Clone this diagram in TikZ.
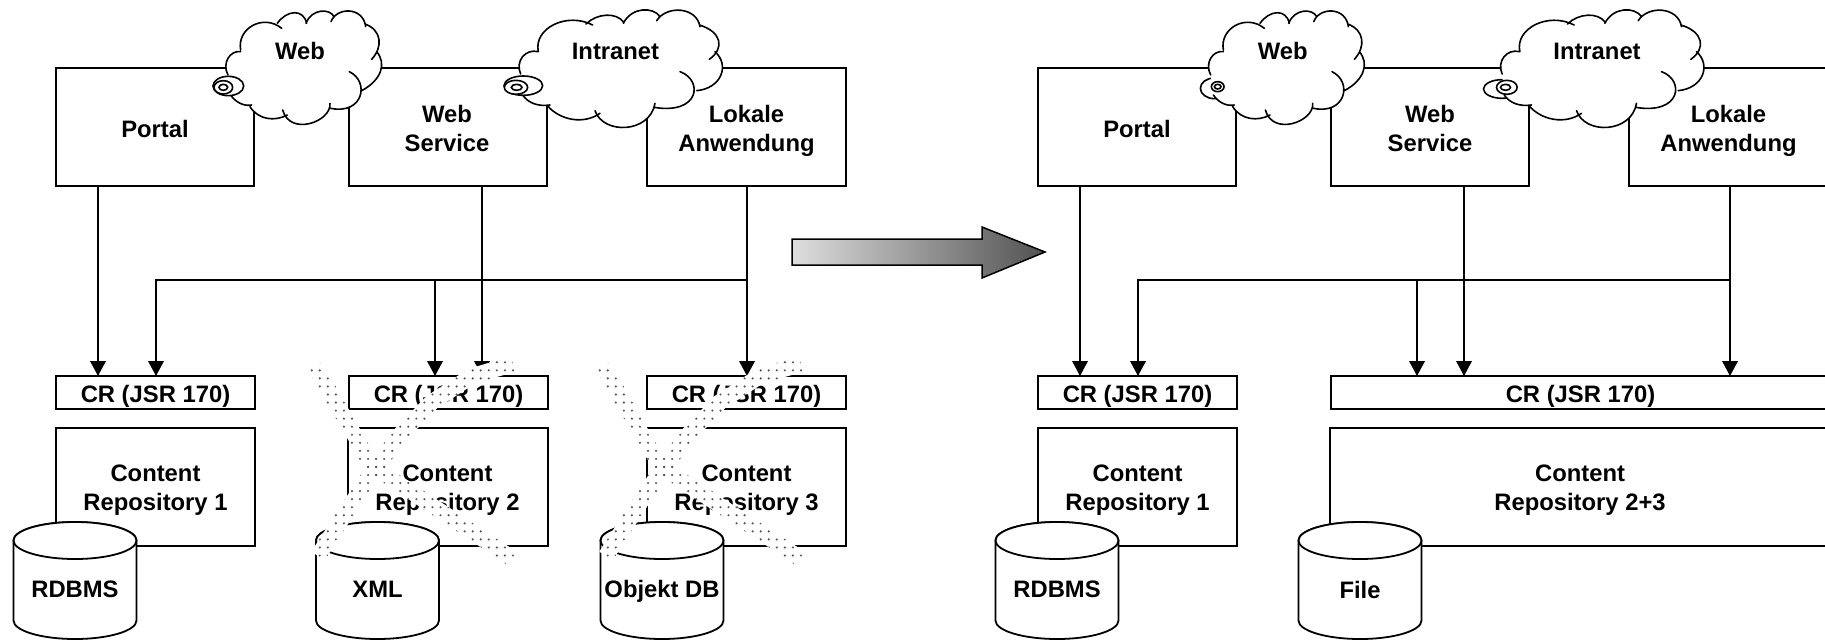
\documentclass[tikz,border=0pt]{standalone}
\usepackage{fontspec}
\setmainfont{Liberation Sans}
\usetikzlibrary{arrows.meta,patterns.meta}
\tikzset{
  labelfont/.style={font=\fontsize{23.8}{28.8}\selectfont\bfseries},
  boxnode/.style={draw=black,fill=white,line width=1.8pt,inner sep=0pt,outer sep=0pt},
  txt/.style={inner sep=0pt,outer sep=0pt,align=center,labelfont},
  conn/.style={draw=black,line width=2pt,-{Triangle[length=15pt,width=15.5pt]}},
  plainconn/.style={draw=black,line width=2pt},
  cyl/.style={draw=black,fill=white,line width=1.8pt},
  cloudline/.style={draw=black,line width=1.6pt,line cap=round},
  band/.style={fill=white},
  banddots/.style={pattern={Dots[radius=1.2pt,distance=8.05pt,xshift=#1pt,yshift=4pt]},pattern color=black!65}
}
\newcommand{\webpath}[1]{(84,225) .. controls (65,190) and (90,150) .. (122,155) #1
 (122,150) .. controls (110,85) and (190,40) .. (245,85) #1
 (232,70) .. controls (260,30) and (310,25) .. (320,70) #1
 (318,70) .. controls (335,25) and (390,25) .. (402,50) #1
 (393,65) .. controls (410,20) and (490,20) .. (497,80) #1
 (495,72) .. controls (545,90) and (550,140) .. (515,178) #1
 (530,155) .. controls (560,190) and (545,240) .. (485,272) #1
 (448,215) .. controls (510,245) and (490,345) .. (392,325) #1
 (390,310) .. controls (395,365) and (270,410) .. (248,330) #1
 (262,345) .. controls (225,365) and (175,360) .. (150,320) #1
 (155,315) .. controls (130,320) and (105,305) .. (92,285)}
\newcommand{\intrapath}[1]{(62,222) .. controls (45,185) and (75,145) .. (115,155) #1
 (115,155) .. controls (100,85) and (200,35) .. (278,75) #1
 (258,72) .. controls (290,40) and (350,35) .. (372,68) #1
 (370,70) .. controls (395,20) and (460,20) .. (480,50) #1
 (470,62) .. controls (500,15) and (590,20) .. (600,80) #1
 (598,75) .. controls (665,95) and (675,145) .. (628,178) #1
 (645,155) .. controls (690,195) and (665,265) .. (590,272) #1
 (540,215) .. controls (610,240) and (600,345) .. (462,322) #1
 (465,310) .. controls (450,400) and (310,405) .. (285,332) #1
 (300,340) .. controls (250,375) and (180,360) .. (143,318) #1
 (150,315) .. controls (115,320) and (85,310) .. (68,285)}
% cylinder: #1 centre x
\newcommand{\drum}[1]{
  \path[cyl] (#1-61.5,540.5) -- (#1-61.5,620.5) arc[start angle=180,end angle=0,x radius=61.5,y radius=18.5] -- (#1+61.5,540.5) arc[start angle=0,end angle=-180,x radius=61.5,y radius=18.5] -- cycle;
  \path[cyl] (#1,540.5) ellipse[x radius=61.5,y radius=18.5];
}
% crossed-out mark: #1 x offset, #2 dot phase
\newcommand{\bandone}{(322,362) -- (377.7,460.7) -- (517.4,552.3) -- (508.6,565.7) -- (366.3,471.3) -- (308,370) -- cycle}
\newcommand{\bandtwo}{(311.3,551.7) -- (361.5,473.5) -- (393.9,429.8) -- (426.9,395.8) -- (468.7,368.8) -- (510.8,356.3) -- (515.2,371.7) -- (475.3,383.2) -- (437.1,408.2) -- (406.1,440.2) -- (374.5,482.5) -- (324.7,560.3) -- cycle}
\newcommand{\crossout}[2]{
  \begin{scope}[shift={(#1,0)}]
  \path[band] \bandone;
  \path[band] \bandtwo;
  \path[banddots=#2] \bandone;
  \path[banddots=#2] \bandtwo;
  \end{scope}
}
\begin{document}
\begin{tikzpicture}[x=1pt,y=-1pt]
\useasboundingbox (0,0) rectangle (1825,640);
\clip (0,0) rectangle (1825,640);
\fill[white] (0,0) rectangle (1825,640);

% ---------- left half ----------
\node[boxnode,minimum width=198pt,minimum height=118pt] (portalL) at (155,127) {};
\node[boxnode,minimum width=198pt,minimum height=118pt] (wsL) at (448,127) {};
\node[boxnode,minimum width=199pt,minimum height=118pt] (lokL) at (746.5,127) {};
\node[boxnode,minimum width=199pt,minimum height=33pt] (crA) at (155.5,392.5) {};
\node[boxnode,minimum width=199pt,minimum height=33pt] (crB) at (448.5,392.5) {};
\node[boxnode,minimum width=199pt,minimum height=33pt] (crC) at (746.5,392.5) {};
\node[boxnode,minimum width=199pt,minimum height=118pt] (repA) at (155.5,487) {};
\node[boxnode,minimum width=200pt,minimum height=118pt] (repB) at (448,487) {};
\node[boxnode,minimum width=199pt,minimum height=118pt] (repC) at (746.5,487) {};
\node[txt] (portalLt) at (155,128.5) {Portal};
\node[txt] (wsLt) at (447,128.5) {Web\\Service};
\node[txt] (lokLt) at (746.5,131) {Lokale\\Anwendung};
\node[txt] (crAt) at (155.5,396) {CR (JSR 170)};
\node[txt] (crBt) at (448.5,396) {CR (JSR 170)};
\node[txt] (crCt) at (746.5,396) {CR (JSR 170)};
\node[txt] (repAt) at (155.5,490.5) {Content\\Repository 1};
\node[txt] (repBt) at (447.5,490.5) {Content\\Repository 2};
\node[txt] (repCt) at (746.5,490.5) {Content\\Repository 3};

\coordinate (jL) at (747,280);
\draw[plainconn] (lokL.south -| jL) -- (jL);
\draw[conn] (jL) -- (jL |- crC.north);
\draw[conn] (jL) -| ([xshift=0.5pt]crA.north);
\draw[conn] ([xshift=-13.5pt]crB.north |- jL) -- ([xshift=-13.5pt]crB.north);
\draw[conn] ([xshift=-57pt]portalL.south) -- ([xshift=-57pt]portalL.south |- crA.north);
\draw[conn] ([xshift=34pt]wsL.south) -- ([xshift=34pt]wsL.south |- crB.north);

\drum{75}\drum{377.5}\drum{662}
\node[txt] (dbA) at (75,589.5) {RDBMS};
\node[txt] (dbB) at (377.5,589.5) {XML};
\node[txt] (dbC) at (662,591) {Objekt DB};

% left clouds
\begin{scope}[shift={(200,0)},x=.3333pt,y=-.3333pt]
  \fill[white] \webpath{--} -- cycle;
  \draw[cloudline] \webpath{};
  \draw[cloudline,fill=white] (85,258) ellipse[x radius=46,y radius=29];
  \draw[cloudline,fill=white] (70,262) ellipse[x radius=28,y radius=20];
  \draw[cloudline] (70,262) ellipse[x radius=13,y radius=9];
\end{scope}
\begin{scope}[shift={(500,0)},x=.3333pt,y=-.3333pt]
  \fill[white] \intrapath{--} -- cycle;
  \draw[cloudline] \intrapath{};
  \draw[cloudline,fill=white] (70,257) ellipse[x radius=58,y radius=29];
  \draw[cloudline,fill=white] (48,262) ellipse[x radius=35,y radius=21];
  \draw[cloudline] (50,262) ellipse[x radius=16,y radius=9];
\end{scope}
\node[txt] (webL) at (300,51) {Web};
\node[txt] (intraL) at (615.5,51) {Intranet};

\crossout{0}{5.8}
\crossout{288}{4.0}

% ---------- transition arrow ----------
\path[draw=black,line width=1.5pt,left color=black!13,right color=black!68]
  (792,239) -- (982,239) -- (982,227) -- (1045,252) -- (982,278) -- (982,265) -- (792,265) -- cycle;

% ---------- right half ----------
\node[boxnode,minimum width=198pt,minimum height=118pt] (portalR) at (1137,127) {};
\node[boxnode,minimum width=198pt,minimum height=118pt] (wsR) at (1430,127) {};
\node[boxnode,minimum width=199pt,minimum height=118pt] (lokR) at (1728.5,127) {};
\node[boxnode,minimum width=199pt,minimum height=33pt] (crD) at (1137.5,392.5) {};
\node[boxnode,minimum width=499pt,minimum height=33pt] (crE) at (1580.5,392.5) {};
\node[boxnode,minimum width=199pt,minimum height=118pt] (repD) at (1137.5,487) {};
\node[boxnode,minimum width=501pt,minimum height=118pt] (repE) at (1580.5,487) {};
\node[txt] (portalRt) at (1137,128.5) {Portal};
\node[txt] (wsRt) at (1430,128.5) {Web\\Service};
\node[txt] (lokRt) at (1728.5,131) {Lokale\\Anwendung};
\node[txt] (crDt) at (1137.5,396) {CR (JSR 170)};
\node[txt] (crEt) at (1580.5,396) {CR (JSR 170)};
\node[txt] (repDt) at (1137.5,490.5) {Content\\Repository 1};
\node[txt] (repEt) at (1580,490.5) {Content\\Repository 2+3};

\coordinate (jR) at (1730,280);
\draw[plainconn] (lokR.south -| jR) -- (jR);
\draw[conn] (jR) -- (jR |- crE.north);
\draw[conn] (jR) -| ([xshift=0.5pt]crD.north);
\draw[conn] ([xshift=-163.5pt]crE.north |- jR) -- ([xshift=-163.5pt]crE.north);
\draw[conn] ([xshift=-57pt]portalR.south) -- ([xshift=-57pt]portalR.south |- crD.north);
\draw[conn] ([xshift=34pt]wsR.south) -- ([xshift=34pt]wsR.south |- crE.north);

\drum{1057}\drum{1360}
\node[txt] (dbD) at (1057,589.5) {RDBMS};
\node[txt] (dbE) at (1360,589.5) {File};

% right clouds
\begin{scope}[shift={(1182.7,0)},x=.3333pt,y=-.3333pt]
  \draw[cloudline,fill=white] (95,265) ellipse[x radius=42,y radius=31];
  \fill[white] \webpath{--} -- cycle;
  \draw[cloudline] \webpath{};
  \draw[cloudline,fill=white] (105,260) ellipse[x radius=19,y radius=15];
  \draw[cloudline] (105,260) ellipse[x radius=10,y radius=7];
\end{scope}
\begin{scope}[shift={(1481.5,0)},x=.3333pt,y=-.3333pt]
  \draw[cloudline,fill=white] (62,267) ellipse[x radius=56,y radius=28];
  \fill[white] \intrapath{--} -- cycle;
  \draw[cloudline] \intrapath{};
  \draw[cloudline,fill=white] (76,262) ellipse[x radius=31,y radius=21];
  \draw[cloudline] (72,262) ellipse[x radius=15,y radius=9];
\end{scope}
\node[txt] (webR) at (1282.7,51) {Web};
\node[txt] (intraR) at (1597,51) {Intranet};
\end{tikzpicture}
\end{document}
